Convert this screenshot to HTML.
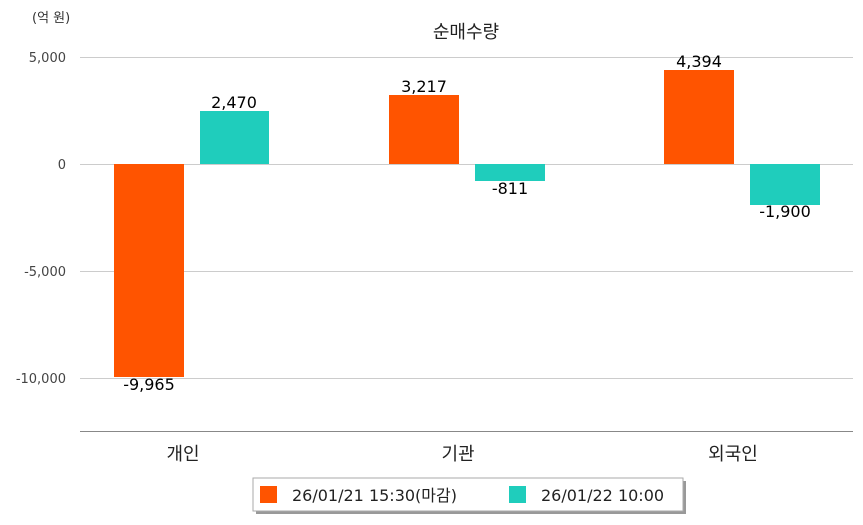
<!DOCTYPE html>
<html><head><meta charset="utf-8"><style>
body{margin:0;background:#fff;}
svg text{font-family:"DejaVu Sans","Noto Sans CJK KR",sans-serif;}
</style></head><body>
<svg width="863" height="520" viewBox="0 0 863 520">
<text x="32" y="22" font-size="13" fill="#333">(억 원)</text>
<text x="466" y="38" font-size="18" fill="#222" text-anchor="middle">순매수량</text>
<g stroke="#ccc" stroke-width="1">
<line x1="80" y1="57.5" x2="853" y2="57.5"/>
<line x1="80" y1="164.5" x2="853" y2="164.5"/>
<line x1="80" y1="271.5" x2="853" y2="271.5"/>
<line x1="80" y1="378.5" x2="853" y2="378.5"/>
</g>
<line x1="80" y1="431.5" x2="853" y2="431.5" stroke="#888"/>
<g font-size="13" fill="#444" text-anchor="end">
<text x="66" y="62">5,000</text>
<text x="66" y="169">0</text>
<text x="66" y="276">-5,000</text>
<text x="66" y="383">-10,000</text>
</g>
<g fill="#ff5400">
<rect x="114" y="164" width="70" height="213"/>
<rect x="389" y="95" width="70" height="69"/>
<rect x="664" y="70" width="70" height="94"/>
</g>
<g fill="#1fcdbc">
<rect x="200" y="111" width="69" height="53"/>
<rect x="475" y="164" width="70" height="17"/>
<rect x="750" y="164" width="70" height="41"/>
</g>
<g font-size="16" fill="#000" text-anchor="middle">
<text x="149" y="390">-9,965</text>
<text x="234" y="108">2,470</text>
<text x="424" y="92">3,217</text>
<text x="510" y="194">-811</text>
<text x="699" y="67">4,394</text>
<text x="785" y="217">-1,900</text>
</g>
<g font-size="18" fill="#222" text-anchor="middle">
<text x="183" y="460">개인</text>
<text x="458" y="460">기관</text>
<text x="733" y="460">외국인</text>
</g>
<rect x="256" y="481" width="430" height="33" fill="#999"/>
<rect x="253" y="478" width="430" height="33" fill="#fff" stroke="#aaa"/>
<rect x="260" y="486" width="17" height="17" fill="#ff5400"/>
<text x="292" y="501" font-size="16" fill="#222">26/01/21 15:30(마감)</text>
<rect x="509" y="486" width="17" height="17" fill="#1fcdbc"/>
<text x="541" y="501" font-size="16" fill="#222">26/01/22 10:00</text>
</svg>
</body></html>
